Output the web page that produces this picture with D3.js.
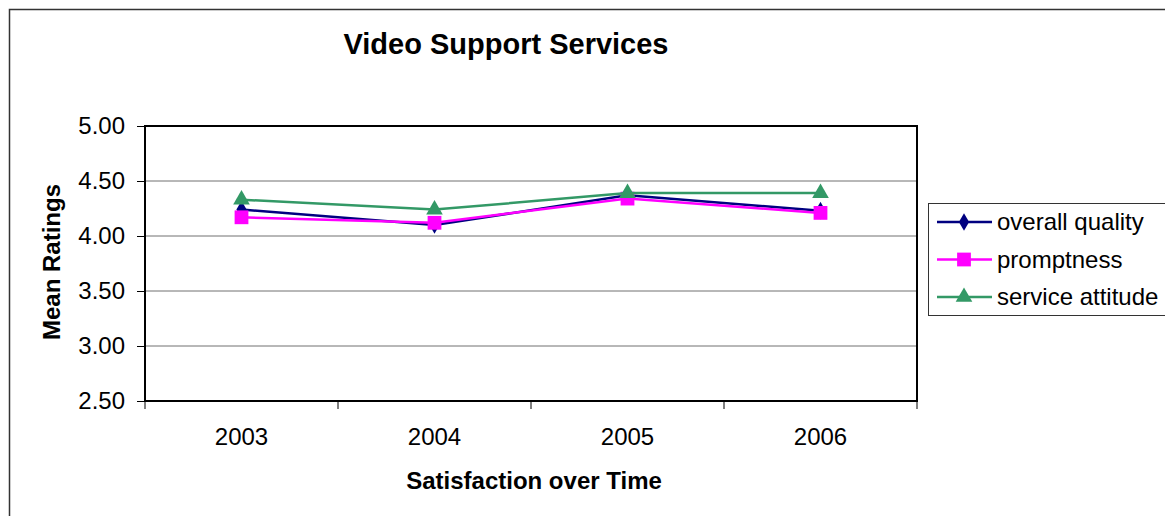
<!DOCTYPE html>
<html>
<head>
<meta charset="utf-8">
<script src="https://cdn.jsdelivr.net/npm/d3@7"></script>
<style>
  body { margin: 0; background: #fff; }
  text { font-family: Arial, "Liberation Sans", sans-serif; }
</style>
</head>
<body>
<div id="main-vis"></div>
<script>
// chart values
const years = ['2003', '2004', '2005', '2006']
const overallQuality = [4.24, 4.10, 4.37, 4.23]
const promptness = [4.17, 4.12, 4.34, 4.21]
const serviceAttitude = [4.33, 4.24, 4.39, 4.39]
const yTicks = [2.5, 3.0, 3.5, 4.0, 4.5, 5.0]

const series = [
    {name: 'overall quality', values: overallQuality, color: '#000080', shape: d3.symbolDiamond, size: 90},
    {name: 'promptness', values: promptness, color: '#ff00ff', shape: d3.symbolSquare, size: 190},
    {name: 'service attitude', values: serviceAttitude, color: '#339966', shape: d3.symbolTriangle, size: 120}
]

window.onload = setup

function setup () {
    const W = 1165, H = 516
    const plot = {left: 145, top: 126, right: 917, bottom: 401}

    const svg = d3.create('svg')
        .attr('width', W)
        .attr('height', H)

    // outer chart frame
    svg.append('rect')
        .attr('x', 9.5).attr('y', 9.5)
        .attr('width', W).attr('height', H)
        .attr('fill', '#fff')
        .attr('stroke', '#333').attr('stroke-width', 1.5)

    const x = d3.scaleBand().domain(years).range([plot.left, plot.right])
    const y = d3.scaleLinear().domain([2.5, 5]).range([plot.bottom, plot.top])

    // gridlines
    svg.append('g')
        .selectAll('line')
        .data(yTicks.slice(1))
        .join('line')
        .attr('x1', plot.left).attr('x2', plot.right)
        .attr('y1', d => y(d)).attr('y2', d => y(d))
        .attr('stroke', '#707070').attr('stroke-width', 1)

    // y axis
    const yAxis = svg.append('g')
        .attr('transform', `translate(${plot.left},0)`)
        .call(d3.axisLeft(y).tickValues(yTicks).tickFormat(d3.format('.2f')).tickSize(8).tickPadding(12))
    yAxis.select('.domain').remove()
    yAxis.selectAll('text').attr('font-size', 24).attr('fill', '#000')
    yAxis.selectAll('line').attr('stroke', '#000')

    // x axis: ticks at category boundaries
    const xAxis = svg.append('g')
        .attr('transform', `translate(0,${plot.bottom})`)
        .call(d3.axisBottom(x).tickSize(0).tickPadding(27))
    xAxis.select('.domain').remove()
    xAxis.selectAll('text').attr('font-size', 24).attr('fill', '#000')
    svg.append('g')
        .selectAll('line')
        .data(years.concat(['end']))
        .join('line')
        .attr('x1', (d, i) => i < years.length ? x(d) : plot.right)
        .attr('x2', (d, i) => i < years.length ? x(d) : plot.right)
        .attr('y1', plot.bottom).attr('y2', plot.bottom + 8)
        .attr('stroke', '#000')

    // plot frame
    svg.append('rect')
        .attr('x', plot.left).attr('y', plot.top)
        .attr('width', plot.right - plot.left).attr('height', plot.bottom - plot.top)
        .attr('fill', 'none').attr('stroke', '#000').attr('stroke-width', 2)

    const line = d3.line()
        .x((d, i) => x(years[i]) + x.bandwidth() / 2)
        .y(d => y(d))

    series.forEach(s => {
        svg.append('path')
            .datum(s.values)
            .attr('d', line)
            .attr('fill', 'none')
            .attr('stroke', s.color)
            .attr('stroke-width', 2.5)
        svg.append('g')
            .selectAll('path')
            .data(s.values)
            .join('path')
            .attr('transform', (d, i) => `translate(${x(years[i]) + x.bandwidth() / 2},${y(d)})`)
            .attr('d', d3.symbol().type(s.shape).size(s.size))
            .attr('fill', s.color)
    })

    // titles
    svg.append('text')
        .attr('x', 506).attr('y', 54)
        .attr('text-anchor', 'middle')
        .attr('font-size', 29).attr('font-weight', 'bold')
        .text('Video Support Services')

    svg.append('text')
        .attr('x', 534).attr('y', 489)
        .attr('text-anchor', 'middle')
        .attr('font-size', 24).attr('font-weight', 'bold')
        .text('Satisfaction over Time')

    svg.append('text')
        .attr('transform', 'translate(60,262) rotate(-90)')
        .attr('text-anchor', 'middle')
        .attr('font-size', 24).attr('font-weight', 'bold')
        .text('Mean Ratings')

    // legend
    const lg = svg.append('g').attr('transform', 'translate(928,203)')
    lg.append('rect')
        .attr('x', 0.5).attr('y', 0.5)
        .attr('width', 240).attr('height', 112)
        .attr('fill', '#fff').attr('stroke', '#333')
    const item = lg.selectAll('g.item')
        .data(series)
        .join('g')
        .attr('class', 'item')
        .attr('transform', (d, i) => `translate(0,${19 + i * 37.5})`)
    item.append('line')
        .attr('x1', 9).attr('x2', 64)
        .attr('stroke', d => d.color).attr('stroke-width', 2.5)
    item.append('path')
        .attr('transform', 'translate(36,0)')
        .attr('d', d => d3.symbol().type(d.shape).size(d.size)())
        .attr('fill', d => d.color)
    item.append('text')
        .attr('x', 69).attr('y', 8)
        .attr('font-size', 24)
        .text(d => d.name)

    d3.select('#main-vis').node().appendChild(svg.node())
}
</script>
</body>
</html>
